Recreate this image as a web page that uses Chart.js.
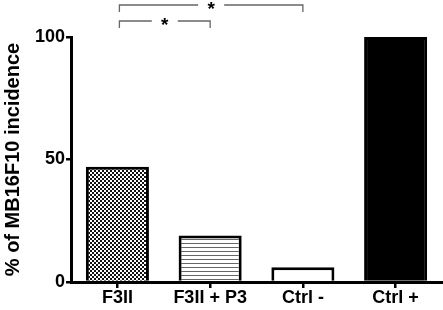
<!DOCTYPE html>
<html>
<head>
<meta charset="utf-8">
<script src="https://cdn.jsdelivr.net/npm/chart.js@4.4.1/dist/chart.umd.min.js"></script>
<style>
  html, body { margin: 0; padding: 0; background: #fff; }
  #wrap { width: 443px; height: 310px; }
</style>
</head>
<body>
<div id="wrap"><canvas id="myChart"></canvas></div>
<script>
const groups = ['F3II', 'F3II + P3', 'Ctrl -', 'Ctrl +'];
const incidence = [47, 19, 6, 100];
const yTicks = [0, 50, 100];
// significance brackets: [from group, to group, label]
const brackets = [
    ['F3II', 'Ctrl -', '*'],
    ['F3II', 'F3II + P3', '*']
];

const fontFam = '"Liberation Sans", Arial, sans-serif';

function makePattern(kind) {
    const c = document.createElement('canvas');
    const g = c.getContext('2d');
    c.width = 4; c.height = 4;
    g.fillStyle = '#fff';
    g.fillRect(0, 0, 4, 4);
    if (kind === 'check') {
        g.fillStyle = '#111';
        g.fillRect(0, 0, 2, 2);
        g.fillRect(2, 2, 2, 2);
    } else {
        g.fillStyle = '#666';
        g.fillRect(0, 3, 4, 1);
    }
    return g.createPattern(c, 'repeat');
}

const fills = [makePattern('check'), makePattern('lines'), '#ffffff', '#000000'];

const bracketPlugin = {
    id: 'brackets',
    afterDraw(chart) {
        const ctx = chart.ctx;
        const x = chart.scales.x;
        ctx.save();
        ctx.strokeStyle = '#666';
        ctx.lineWidth = 1.3;
        ctx.fillStyle = '#000';
        ctx.font = 'bold 19px ' + fontFam;
        ctx.textAlign = 'center';
        ctx.textBaseline = 'middle';
        brackets.forEach((b, i) => {
            const x1 = x.getPixelForValue(groups.indexOf(b[0])) + 2;
            const x2 = x.getPixelForValue(groups.indexOf(b[1]));
            const yTop = 5 + i * 16;
            const mid = (x1 + x2) / 2;
            const gap = 13;
            ctx.beginPath();
            ctx.moveTo(x1, yTop + 7);
            ctx.lineTo(x1, yTop);
            ctx.lineTo(mid - gap, yTop);
            ctx.moveTo(mid + gap, yTop);
            ctx.lineTo(x2, yTop);
            ctx.lineTo(x2, yTop + 7);
            ctx.stroke();
            ctx.fillText(b[2], mid, yTop + 5);
        });
        ctx.restore();
    }
};

new Chart(document.getElementById('myChart'), {
    type: 'bar',
    data: {
        labels: groups,
        datasets: [{
            data: incidence,
            backgroundColor: fills,
            borderColor: '#000',
            borderWidth: 3,
            borderSkipped: 'bottom',
            barPercentage: 0.68,
            categoryPercentage: 1.0
        }]
    },
    options: {
        animation: false,
        responsive: true,
        maintainAspectRatio: false,
        layout: { padding: { top: 37, right: 1, left: 0, bottom: 2 } },
        plugins: {
            legend: { display: false },
            tooltip: { enabled: false }
        },
        scales: {
            x: {
                grid: {
                    display: true,
                    drawOnChartArea: false,
                    drawTicks: true,
                    offset: false,
                    tickLength: 6,
                    color: '#000',
                    lineWidth: 2.5
                },
                border: { display: true, color: '#000', width: 3 },
                ticks: {
                    color: '#000',
                    padding: 1,
                    font: { family: fontFam, size: 18, weight: 'bold', lineHeight: 1.0 }
                }
            },
            y: {
                min: 0,
                max: 100,
                afterBuildTicks(axis) {
                    axis.ticks = yTicks.map(v => ({ value: v }));
                },
                grid: {
                    display: true,
                    drawOnChartArea: false,
                    drawTicks: true,
                    tickLength: 5,
                    color: '#000',
                    lineWidth: 2.5
                },
                border: { display: true, color: '#000', width: 3 },
                ticks: {
                    color: '#000',
                    padding: 1,
                    font: { family: fontFam, size: 18, weight: 'bold' }
                },
                title: {
                    display: true,
                    text: '% of MB16F10 incidence',
                    color: '#000',
                    padding: { top: 1, bottom: 9 },
                    font: { family: fontFam, size: 20, weight: 'bold' }
                }
            }
        }
    },
    plugins: [bracketPlugin]
});
</script>
</body>
</html>
